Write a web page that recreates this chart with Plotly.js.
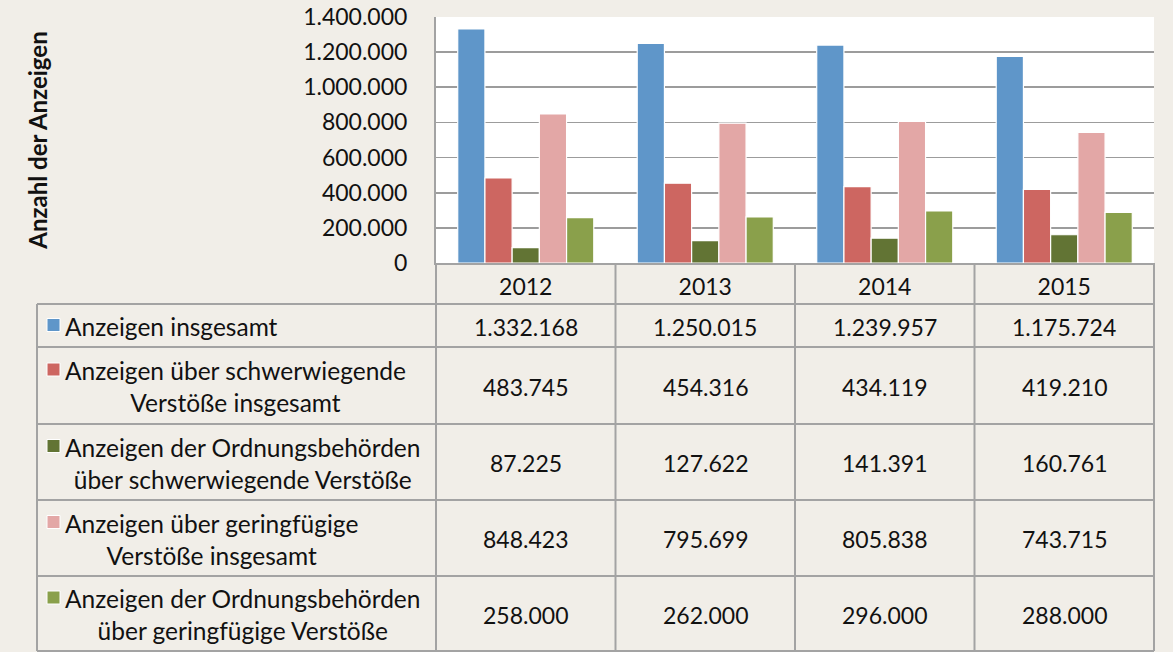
<!DOCTYPE html>
<html><head><meta charset="utf-8">
<script src="https://cdn.plot.ly/plotly-3.0.1.min.js"></script>
<style>html,body{margin:0;padding:0;background:#f1eee8;} #chart{width:1173px;height:652px;}</style>
</head><body><div id="chart"></div>
<script>
// ---- data ----
const years = ['2012', '2013', '2014', '2015'];
const seriesNames = [
  'Anzeigen insgesamt',
  'Anzeigen über schwerwiegende<br>Verstöße insgesamt',
  'Anzeigen der Ordnungsbehörden<br>über schwerwiegende Verstöße',
  'Anzeigen über geringfügige<br>Verstöße insgesamt',
  'Anzeigen der Ordnungsbehörden<br>über geringfügige Verstöße'
];
const anzeigenInsgesamt   = [1332168, 1250015, 1239957, 1175724];
const schwerInsgesamt     = [483745, 454316, 434119, 419210];
const schwerOrdnung       = [87225, 127622, 141391, 160761];
const geringInsgesamt     = [848423, 795699, 805838, 743715];
const geringOrdnung       = [258000, 262000, 296000, 288000];
const seriesColors = ['#5f96c9', '#cd6661', '#627434', '#e3a7a6', '#8aa04b'];
const yTickVals = [0, 200000, 400000, 600000, 800000, 1000000, 1200000, 1400000];
const yTitle = 'Anzahl der Anzeigen';

const seriesValues = [anzeigenInsgesamt, schwerInsgesamt, schwerOrdnung, geringInsgesamt, geringOrdnung];

// ---- geometry (pixels) ----
const W = 1173, H = 652;
const PL = 436, PR = 1154, PT = 17, PB = 263;
const TABLE_LEFT = 37;
const rowBounds = [263, 304, 347, 424, 500, 576, 651]; // header row + 5 data rows
const FONT = 'Lato, "Open Sans", sans-serif';
const FS_TEXT = 24.5;
const FS_NUM = 23;
const LINE = '#a3a3a3';

const px = p => (p - PL) / (PR - PL);
const py = p => (PB - p) / (PB - PT);

function fmt(n) {
  return String(n).replace(/\B(?=(\d{3})+(?!\d))/g, '.');
}

const traces = seriesValues.map((vals, i) => ({
  type: 'bar',
  x: years,
  y: vals,
  name: seriesNames[i].replace('<br>', ' '),
  marker: { color: seriesColors[i], line: { color: '#ffffff', width: 1.2 } },
  hoverinfo: 'skip'
}));

const shapes = [];
const annotations = [];
const nCat = years.length;
const catX = k => k / nCat; // paper x of category boundary (range -0.5..n-0.5)

// horizontal table lines
for (let r = 1; r < rowBounds.length; r++) {
  shapes.push({ type: 'line', xref: 'paper', yref: 'paper', x0: px(TABLE_LEFT), x1: 1,
    y0: py(rowBounds[r]), y1: py(rowBounds[r]), line: { color: LINE, width: 2 } });
}
// left border of legend column
shapes.push({ type: 'line', xref: 'paper', yref: 'paper', x0: px(TABLE_LEFT), x1: px(TABLE_LEFT),
  y0: py(rowBounds[1]), y1: py(rowBounds[rowBounds.length - 1]), line: { color: LINE, width: 2 } });
// column boundaries
for (let k = 0; k <= nCat; k++) {
  shapes.push({ type: 'line', xref: 'paper', yref: 'paper', x0: catX(k), x1: catX(k),
    y0: py(rowBounds[0]), y1: py(rowBounds[rowBounds.length - 1]),
    line: { color: LINE, width: 2 } });
}

// rows
seriesNames.forEach((name, i) => {
  const top = rowBounds[i + 1], bot = rowBounds[i + 2];
  const mid = (top + bot) / 2;
  const nLines = name.split('<br>').length;
  const firstLineMid = mid - (nLines - 1) * 15.5;
  shapes.push({ type: 'rect', xref: 'paper', yref: 'paper',
    x0: px(47), x1: px(60), y0: py(firstLineMid - 7), y1: py(firstLineMid + 6),
    fillcolor: seriesColors[i], line: { color: '#ffffff', width: 1 } });
  annotations.push({ xref: 'paper', yref: 'paper', x: px(63), y: py(mid + 1),
    xanchor: 'left', yanchor: 'middle', align: 'center', text: name, showarrow: false,
    font: { family: FONT, size: FS_TEXT, color: '#111' } });
  seriesValues[i].forEach((v, k) => {
    annotations.push({ xref: 'x', yref: 'paper', x: k, y: py(mid + 1),
      xanchor: 'center', yanchor: 'middle', text: fmt(v), showarrow: false,
      font: { family: FONT, size: FS_NUM, color: '#111' } });
  });
});

const layout = {
  width: W, height: H,
  paper_bgcolor: '#f1eee8',
  plot_bgcolor: '#ffffff',
  separators: ',.',
  margin: { l: PL, r: W - PR, t: PT, b: H - PB, pad: 0 },
  barmode: 'group',
  bargap: 0.242,
  bargroupgap: 0,
  showlegend: false,
  font: { family: FONT, size: FS_NUM, color: '#111' },
  xaxis: {
    type: 'category', range: [-0.5, nCat - 0.5], fixedrange: true,
    showline: true, linecolor: LINE, linewidth: 2,
    showgrid: false, ticks: '', ticklabelstandoff: 2,
    tickfont: { family: FONT, size: FS_NUM, color: '#111' }
  },
  yaxis: {
    range: [0, 1400000], tickvals: yTickVals, tickformat: ',d', fixedrange: true,
    showline: true, linecolor: LINE, linewidth: 2,
    showgrid: true, gridcolor: '#9c9c9c', gridwidth: 1.6,
    zeroline: false, ticks: '', ticklabelstandoff: 22,
    tickfont: { family: FONT, size: FS_NUM, color: '#111' },
    title: { text: yTitle, standoff: 249,
      font: { family: FONT, size: 24, color: '#111', weight: 'bold' } }
  },
  shapes: shapes,
  annotations: annotations
};

Plotly.newPlot('chart', traces, layout, { staticPlot: true, displayModeBar: false });
</script>
</body></html>
